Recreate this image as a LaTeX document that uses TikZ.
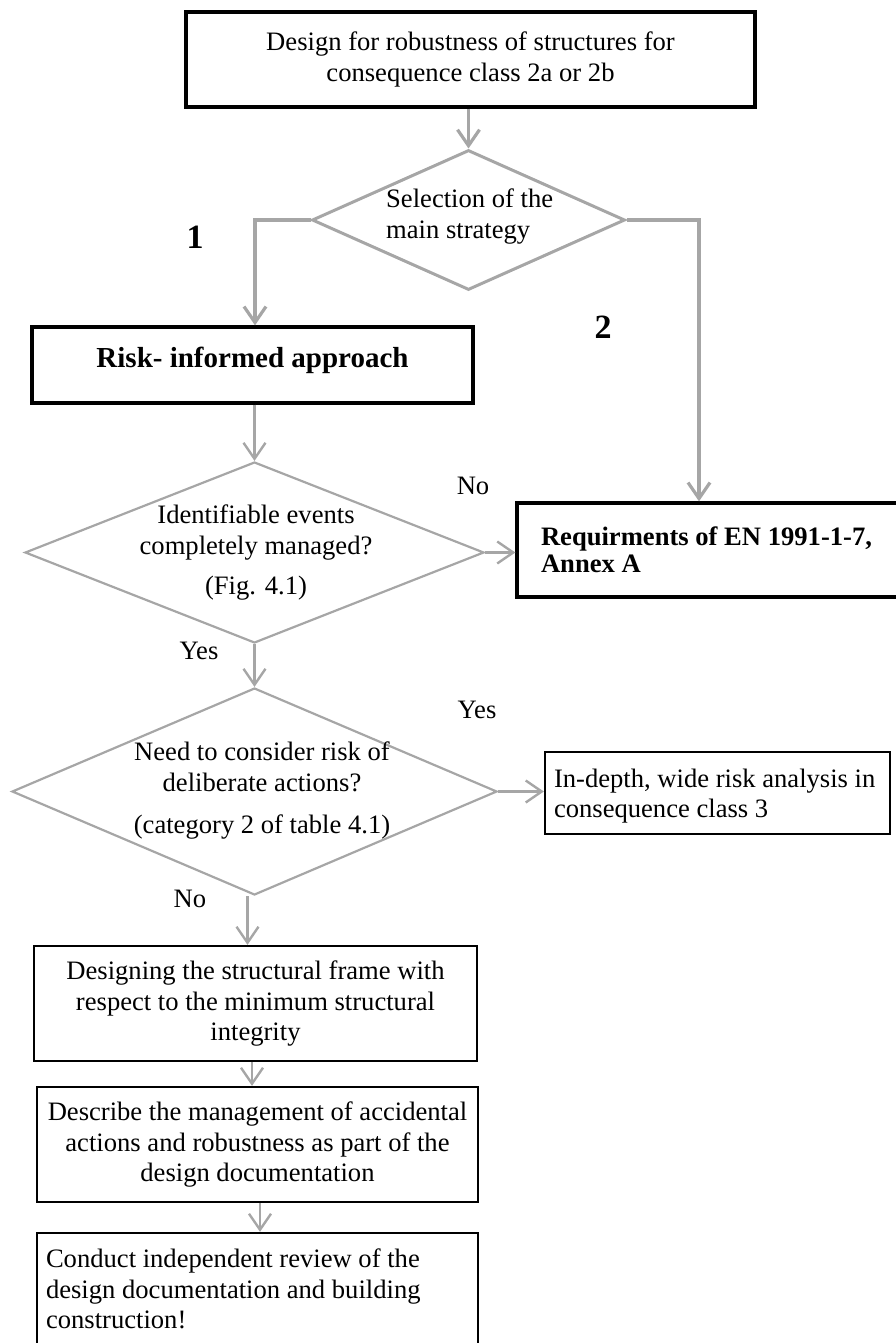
\documentclass[tikz,border=0pt]{standalone}
\usepackage{fontspec}
\setmainfont{Liberation Serif}
\usetikzlibrary{shapes.geometric,arrows.meta,calc}
\definecolor{lgray}{RGB}{166,166,166}
\begin{document}
\begin{tikzpicture}[x=1pt,y=-1pt,
  txt/.style={font=\fontsize{26.6}{30.5}\selectfont, inner sep=0pt},
  boxthick/.style={draw=black, line width=3.3pt, rectangle, inner sep=0pt, align=center, font=\fontsize{26.6}{30.5}\selectfont},
  boxthin/.style={draw=black, line width=2.3pt, rectangle, inner sep=0pt, align=center, font=\fontsize{26.6}{30.2}\selectfont},
  leftbox/.style={align=none},
  dia/.style={draw=lgray, shape=diamond, inner sep=0pt},
  arr/.style={draw=lgray, line width=2.4pt, -{Straight Barb[length=16pt,width=22pt]}},
  arrbig/.style={arr, line width=3.2pt},
  numlab/.style={inner sep=0pt, font=\fontsize{34}{40}\selectfont\bfseries}
  ]
\clip (0,0) rectangle (896,1343);

% top box
\node[boxthick, minimum width=569pt, minimum height=95pt] (top) at (470.5,59.5)
  {Design for robustness of structures for\\consequence class 2a or 2b};

% decision 1
\node[dia, line width=3pt, minimum width=313pt, minimum height=140pt] (d1) at (468.5,220) {};
\node[txt, align=left, anchor=west] (d1t) at (386,216.5) {Selection of the\\main strategy};

\node[numlab] (l1) at (195,237) {1};
\node[numlab] (l2) at (603,327) {2};

% risk-informed approach
\node[boxthick, minimum width=441pt, minimum height=76pt, text height=20pt, text depth=16pt,
      font=\fontsize{29}{33}\selectfont\bfseries] (risk) at (252.5,365) {Risk- informed approach};

% requirements box
\node[boxthick, leftbox, minimum width=393pt, minimum height=94pt, text width=345pt,
      font=\fontsize{26.6}{27.3}\selectfont\bfseries] (req) at (713.5,550)
  {\raggedright Requirments of EN 1991-1-7,\\Annex A};

% decision 2
\node[dia, line width=2.2pt, minimum width=459pt, minimum height=181pt] (d2) at (254.5,552.5) {};
\node[txt, align=center, font=\fontsize{26.6}{31}\selectfont] (d2t) at (256,552.5)
  {Identifiable events\\completely managed?\\[9pt](Fig. 4.1)};
\node[txt] (no1) at (473,486) {No};
\node[txt] (yes1) at (199,651) {Yes};

% decision 3
\node[dia, line width=2.2pt, minimum width=485pt, minimum height=207pt] (d3) at (254.5,791.5) {};
\node[txt, align=center, font=\fontsize{26.6}{31}\selectfont] (d3t) at (262,790)
  {Need to consider risk of\\deliberate actions?\\[11pt](category 2 of table 4.1)};
\node[txt] (yes2) at (477,710) {Yes};
\node[txt] (no2) at (190,899) {No};

% in-depth box
\node[boxthin, leftbox, minimum width=345pt, minimum height=82pt, text width=327pt,
      text depth=30pt] (ind) at (717.5,793)
  {\raggedright In-depth, wide risk analysis in\\consequence class 3};

% lower boxes
\node[boxthin, minimum width=443pt, minimum height=115pt] (b4) at (255.5,1003.5)
  {Designing the structural frame with\\respect to the minimum structural\\integrity};
\node[boxthin, minimum width=441pt, minimum height=115pt] (b5) at (257.5,1144.5)
  {Describe the management of accidental\\actions and robustness as part of the\\design documentation};
\node[boxthin, leftbox, minimum width=441pt, minimum height=112pt, text width=423pt] (b6) at (257.5,1289)
  {\raggedright Conduct independent review of the\\design documentation and building\\construction!};

% connectors
\draw[arrbig] (d1.north |- top.south) -- (d1.north);
\draw[arrbig] (d1.west) -| ([xshift=2.5pt]risk.north);
\draw[arrbig] (d1.east) -| ([xshift=-14.5pt]req.north);
\draw[arr] (d2.north |- risk.south) -- (d2.north);
\draw[arr] (d2.east) -- (d2.east -| req.west);
\draw[arr] (d2.south) -- (d3.north);
\draw[arr] (d3.east) -- (d3.east -| ind.west);
\draw[arr] ([xshift=-7pt]d3.south) -- ([xshift=-7pt]d3.south |- b4.north);
\draw[arr] ([xshift=-3.5pt]b4.south) -- ([xshift=-3.5pt]b4.south |- b5.north);
\draw[arr] ([xshift=2.5pt]b5.south) -- ([xshift=2.5pt]b5.south |- b6.north);
\end{tikzpicture}
\end{document}
